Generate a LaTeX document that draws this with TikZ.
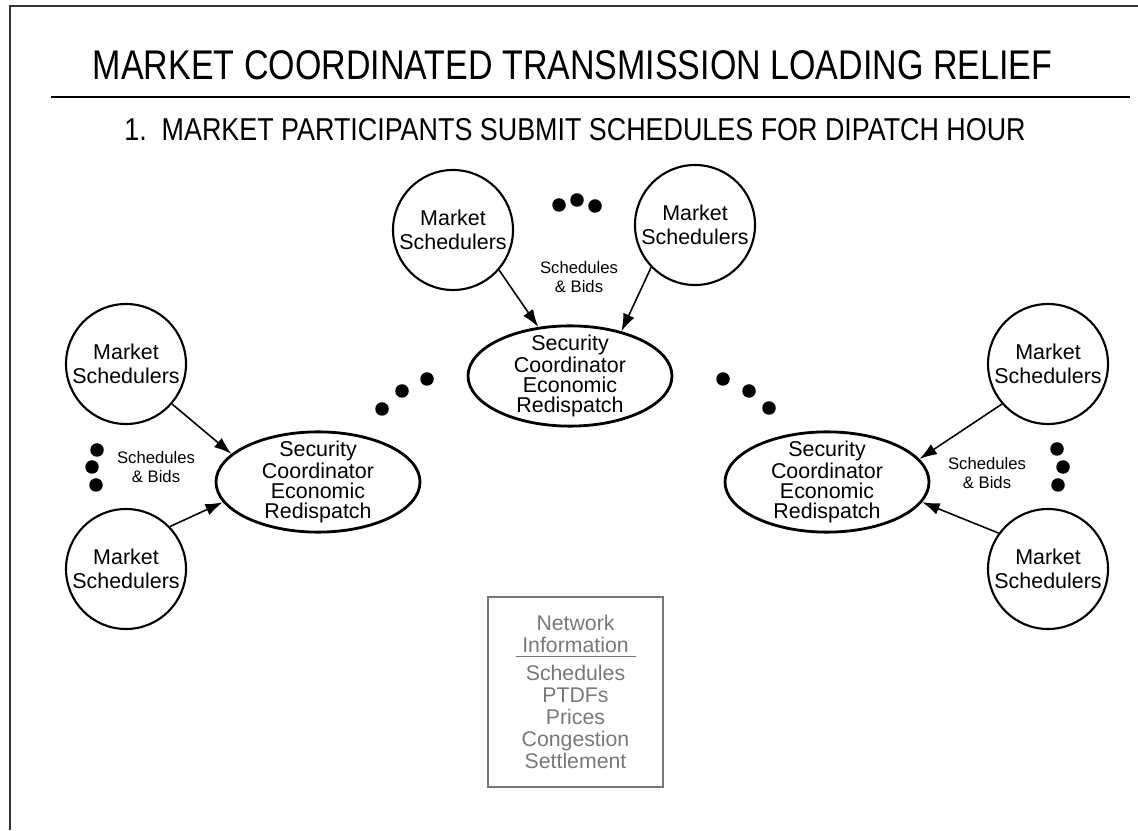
\documentclass[tikz,border=0pt]{standalone}
\usepackage{fontspec}
\setmainfont{Liberation Sans}
\newfontfamily\headfont[FakeStretch=0.82]{Liberation Sans}
\newfontfamily\subheadfont[FakeStretch=0.85]{Liberation Sans}
\usetikzlibrary{shapes,arrows.meta,positioning}
\definecolor{infogray}{RGB}{120,120,120}

\begin{document}
\begin{tikzpicture}[
            every node/.style={inner sep=0pt},
            market/.style={circle, draw, line width=1.2pt, minimum size=2.4cm, align=center,
              font=\fontsize{12.2pt}{13.4pt}\selectfont},
            coordinator/.style={ellipse, draw, line width=1.6pt, minimum width=4.08cm,
              minimum height=1.96cm, inner xsep=0pt, inner ysep=-3pt, align=center,
              font=\fontsize{12.2pt}{11.3pt}\selectfont},
            bids/.style={align=center, font=\fontsize{9.5pt}{11.3pt}\selectfont},
            submit/.style={->, line width=0.9pt, >={Latex[length=3.5mm, width=2.4mm]}}
          ]

          \useasboundingbox (0,0) rectangle (22.76,16.6);

          % Frame and titles
          \draw[line width=1.1pt, black!80] (0.2,0) -- (0.2,16.48) -- (22.76,16.48);
          \node (title) at (11.45,15.3) {\headfont\fontsize{23.6pt}{26pt}\selectfont MARKET COORDINATED TRANSMISSION LOADING RELIEF};
          \draw[line width=0.6pt] (1.02,14.66) -- (22.6,14.66);
          \node (step1) at (11.5,14.0) {\subheadfont\fontsize{18pt}{20pt}\selectfont 1.\ \ MARKET PARTICIPANTS SUBMIT SCHEDULES FOR DIPATCH HOUR};

          % Nodes
          \node[coordinator] (sc1) at (6.36,6.96) {Security\\Coordinator\\Economic\\Redispatch};
          \node[coordinator] (sc2) at (11.40,9.08) {Security\\Coordinator\\Economic\\Redispatch};
          \node[coordinator] (sc3) at (16.54,6.96) {Security\\Coordinator\\Economic\\Redispatch};

          \node[market] (ms1) at (9.06,12.00) {Market\\Schedulers};
          \node[market] (ms2) at (13.90,12.10) {Market\\Schedulers};
          \node[market] (ms3) at (2.52,9.32) {Market\\Schedulers};
          \node[market] (ms4) at (2.52,5.22) {Market\\Schedulers};
          \node[market] (ms5) at (20.96,9.32) {Market\\Schedulers};
          \node[market] (ms6) at (20.96,5.22) {Market\\Schedulers};

          \node[bids] (bids2) at (11.58,11.06) {Schedules\\\& Bids};
          \node[bids] (bids1) at (3.12,7.26) {Schedules\\\& Bids};
          \node[bids] (bids3) at (19.74,7.14) {Schedules\\\& Bids};

          \node[draw=infogray, line width=1.5pt, minimum width=3.5cm, minimum height=3.8cm,
                align=center, text=infogray, font=\fontsize{12.1pt}{12.5pt}\selectfont] (netinfo) at (11.51,2.76)
            {Network\\Information\\[-10pt]\rule{2.4cm}{0.6pt}\\[1pt]Schedules\\PTDFs\\Prices\\Congestion\\Settlement};

          % Dots
          \foreach \p in {(11.18,12.50),(11.54,12.60),(11.90,12.48),
                          (1.94,7.60),(1.84,7.26),(1.92,6.90),
                          (21.14,7.62),(21.26,7.26),(21.16,6.90),
                          (7.64,8.42),(8.04,8.78),(8.54,9.02),
                          (14.46,9.02),(14.98,8.78),(15.38,8.44)}
            \fill \p circle (0.135);

          % Edges
          \draw[submit] (ms1.-41) -- (sc2.123);
          \draw[submit] (ms2.-136) -- (sc2.41);
          \draw[submit] (ms3.-41) -- (sc1.162);
          \draw[submit] (ms4.44) -- (sc1.-168);
          \draw[submit] (ms5.-139) -- (sc3.14);
          \draw[submit] (ms6.144) -- (sc3.-12);

        \end{tikzpicture}
\end{document}
